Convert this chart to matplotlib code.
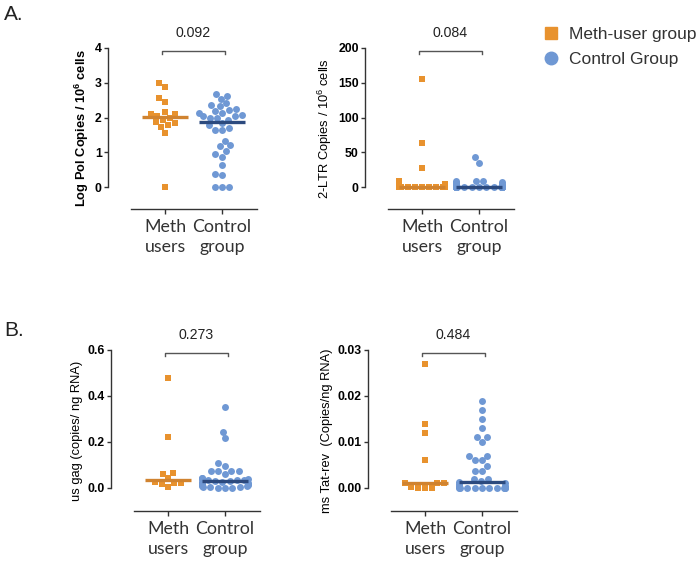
import matplotlib
matplotlib.use('Agg')
import matplotlib.pyplot as plt
import matplotlib.transforms as mtransforms
from matplotlib.lines import Line2D
import seaborn as sns
import pandas as pd
import numpy as np
import warnings
warnings.filterwarnings('ignore')

# ---------------- data ----------------
categories = ['Meth users', 'Control group']
tick_labels = ['Meth\nusers', 'Control\ngroup']
legend_labels = ['Meth-user group', 'Control Group']

pol_meth = [3.0, 2.89, 2.57, 2.46, 2.17, 2.09, 2.10, 2.05, 1.98, 1.93, 1.86, 1.83,
            1.79, 1.72, 1.56, 0.0]
pol_ctrl = [2.68, 2.63, 2.53, 2.41, 2.35, 2.33, 2.24, 2.22, 2.18, 2.14, 2.14, 2.07,
            2.05, 2.03, 2.00, 1.98, 1.93, 1.83, 1.77, 1.70, 1.64, 1.63, 1.33, 1.20,
            1.17, 1.04, 0.95, 0.87, 0.64, 0.37, 0.34, 0.0, 0.0, 0.0]

ltr_meth = [155, 64, 27, 8, 5, 4, 3, 0, 0, 0, 0, 0, 0, 0, 0, 0]
ltr_ctrl = [43, 35, 9, 9, 8, 7, 6, 6, 5, 3, 2] + [0] * 23

gag_meth = [0.48, 0.22, 0.064, 0.061, 0.042, 0.027, 0.023, 0.023, 0.017, 0.006]
gag_ctrl = [0.351, 0.245, 0.216, 0.107, 0.096, 0.074, 0.074, 0.074, 0.072, 0.06,
            0.045, 0.042, 0.04, 0.038, 0.036, 0.035, 0.033, 0.032, 0.03, 0.028,
            0.025, 0.022, 0.02, 0.018, 0.015, 0.012, 0.01, 0.008, 0.006, 0.005,
            0.003, 0.002, 0.001, 0.0]

tat_meth = [0.027, 0.014, 0.012, 0.006, 0.001, 0.001, 0.001, 0.0003, 0.0, 0.0, 0.0]
tat_ctrl = [0.019, 0.017, 0.015, 0.013, 0.011, 0.011, 0.010, 0.007, 0.007, 0.006,
            0.006, 0.0048, 0.0038, 0.0038, 0.002, 0.002, 0.0015, 0.0012, 0.001,
            0.0008, 0.0005, 0.0005, 0.0003, 0.0002] + [0.0] * 10

p_values = ['0.092', '0.084', '0.273', '0.484']
y_labels = [r'Log Pol Copies / 10$^{\mathbf{6}}$ cells',
            r'2-LTR Copies / 10$^{6}$ cells',
            'us gag (copies/ ng RNA)',
            'ms Tat-rev  (Copies/ng RNA)']
y_ticks = [[0, 1, 2, 3, 4], [0, 50, 100, 150, 200],
           [0.0, 0.2, 0.4, 0.6], [0.00, 0.01, 0.02, 0.03]]
y_ticklabels = [['0', '1', '2', '3', '4'], ['0', '50', '100', '150', '200'],
                ['0.0', '0.2', '0.4', '0.6'], ['0.00', '0.01', '0.02', '0.03']]
y_lows = [-0.633, -31.65, -0.1, -0.005]

# ---------------- style ----------------
plt.rcParams['font.family'] = ['Liberation Sans', 'DejaVu Sans']
plt.rcParams['mathtext.fontset'] = 'custom'
plt.rcParams['mathtext.rm'] = 'Liberation Sans'
plt.rcParams['mathtext.bf'] = 'Liberation Sans:bold'

ORANGE = '#E8922E'
ORANGE_LINE = '#D08330'
BLUE = '#6F98D4'
NAVY = '#2C4A7E'
AXC = '#333333'

W, H = 697, 561
fig = plt.figure(figsize=(W / 100, H / 100), dpi=100)


def rect(l, r, top, bot):
    return [l / W, 1 - bot / H, (r - l) / W, (bot - top) / H]


rects = [rect(108, 257, 48, 209), rect(365, 514, 48, 209),
         rect(111, 260, 350, 511), rect(368, 517, 350, 511)]
datasets = [(pol_meth, pol_ctrl), (ltr_meth, ltr_ctrl),
            (gag_meth, gag_ctrl), (tat_meth, tat_ctrl)]

for i, (rc, (dm, dc)) in enumerate(zip(rects, datasets)):
    ax = fig.add_axes(rc)
    df_m = pd.DataFrame({'group': categories[0], 'val': dm})
    df_c = pd.DataFrame({'group': categories[1], 'val': dc})
    sns.swarmplot(data=df_m, x='group', y='val', order=categories, ax=ax,
                  marker='s', color=ORANGE, size=4.8, linewidth=0, zorder=2)
    sns.swarmplot(data=df_c, x='group', y='val', order=categories, ax=ax,
                  marker='o', color=BLUE, size=5.0, linewidth=0, zorder=2)
    ax.hlines(np.median(dm), -0.4, 0.4, color=ORANGE_LINE, lw=2.4, zorder=3)
    ax.hlines(np.median(dc), 0.6, 1.4, color=NAVY, lw=2.4, zorder=3)

    ymax = y_ticks[i][-1]
    ax.set_xlim(-1.0, 1.614)
    ax.set_ylim(y_lows[i], ymax)
    ax.set_yticks(y_ticks[i])
    ax.set_yticklabels(y_ticklabels[i], fontweight='bold', fontsize=8.8)
    ax.set_xticks([0, 1])
    ax.set_xticklabels(tick_labels, fontsize=12.8, family=['Lato', 'DejaVu Sans'],
                       color='#333333', linespacing=1.3)
    ax.set_xlabel('')
    ax.set_ylabel(y_labels[i], fontsize=9.3, fontweight='bold' if i == 0 else 'normal',
                  labelpad=3)
    for s in ['top', 'right']:
        ax.spines[s].set_visible(False)
    ax.spines['left'].set_bounds(0, ymax)
    ax.spines['bottom'].set_bounds(-0.6, 1.614)
    for s in ['left', 'bottom']:
        ax.spines[s].set_color(AXC)
        ax.spines[s].set_linewidth(1.0)
    ax.tick_params(axis='y', length=3, width=1.0, color=AXC, pad=1.5)
    ax.tick_params(axis='x', length=3.5, width=1.0, color=AXC, pad=4)
    ax.patch.set_visible(False)

    trans = mtransforms.blended_transform_factory(ax.transData, ax.transAxes)
    ax.plot([-0.05, -0.05, 1.05, 1.05], [0.961, 0.983, 0.983, 0.961],
            color='#555555', lw=1.0, transform=trans, clip_on=False)
    ax.text(0.5, 1.093, p_values[i], transform=trans, ha='center', va='center',
            fontsize=10.2, color='#222222')

fig.text(4 / W, 1 - 15 / H, 'A.', fontsize=15, ha='left', va='center', color='#222222')
fig.text(4 / W, 1 - 330 / H, 'B.', fontsize=15, ha='left', va='center', color='#222222')

handles = [Line2D([], [], marker='s', color=ORANGE, linestyle='none', markersize=8.5),
           Line2D([], [], marker='o', color=BLUE, linestyle='none', markersize=9)]
fig.legend(handles, legend_labels, loc='upper left', bbox_to_anchor=(543 / W, 1 - 27 / H),
           frameon=False, fontsize=12.5, handlelength=0.9, handletextpad=0.6,
           labelspacing=0.55, borderpad=0, borderaxespad=0, labelcolor='#333333')

fig.savefig('out.png', dpi=100)
